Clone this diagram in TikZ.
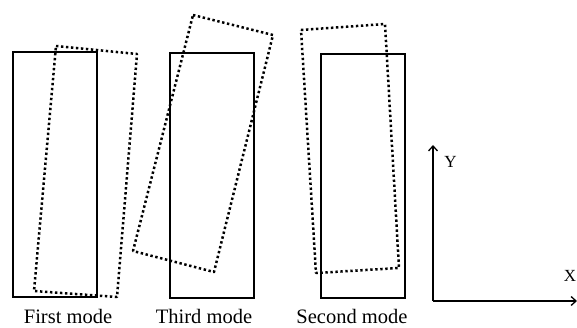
\documentclass[tikz,border=0pt]{standalone}
\usepackage{fontspec}
\setmainfont{Liberation Serif}
\usetikzlibrary{arrows.meta}
\begin{document}
\begin{tikzpicture}[x=1pt,y=-1pt,
  solidbox/.style={line width=2.2pt, line join=miter},
  dotbox/.style={line width=2.5pt, dash pattern=on 2.4pt off 2.6pt, line join=round},
  axis/.style={line width=1.4pt, -{Straight Barb[length=5pt,width=9pt,line width=1.3pt]}},
  caption/.style={anchor=base, inner sep=0pt, font=\fontsize{20.5}{22}\selectfont},
  axlabel/.style={inner sep=0pt, font=\fontsize{17}{19}\selectfont}]
\useasboundingbox (0,0) rectangle (577,328);
% First mode
\draw[solidbox] (13,52) rectangle (97,297);
\draw[dotbox] (56,46) -- (137,54) -- (117,297) -- (34,291) -- cycle;
% Third mode
\draw[solidbox] (170,53) rectangle (254,298);
\draw[dotbox] (193,15) -- (273,35) -- (214,272) -- (133,251) -- cycle;
% Second mode
\draw[solidbox] (321,54) rectangle (405,298);
\draw[dotbox] (301,30) -- (385,24) -- (399,268) -- (316,273) -- cycle;
% captions
\node[caption] (c1) at (68,323) {First mode};
\node[caption] (c3) at (204,323) {Third mode};
\node[caption] (c2) at (352,323) {Second mode};
% axes
\coordinate (o) at (433,301);
\coordinate (ytip) at (433,145);
\coordinate (xtip) at (577,301);
\draw[axis] (o) -- (ytip);
\draw[axis] (o) -- (xtip);
\node[axlabel] (ylab) at (450.5,161.5) {Y};
\node[axlabel] (xlab) at (570,275.5) {X};
\end{tikzpicture}
\end{document}
